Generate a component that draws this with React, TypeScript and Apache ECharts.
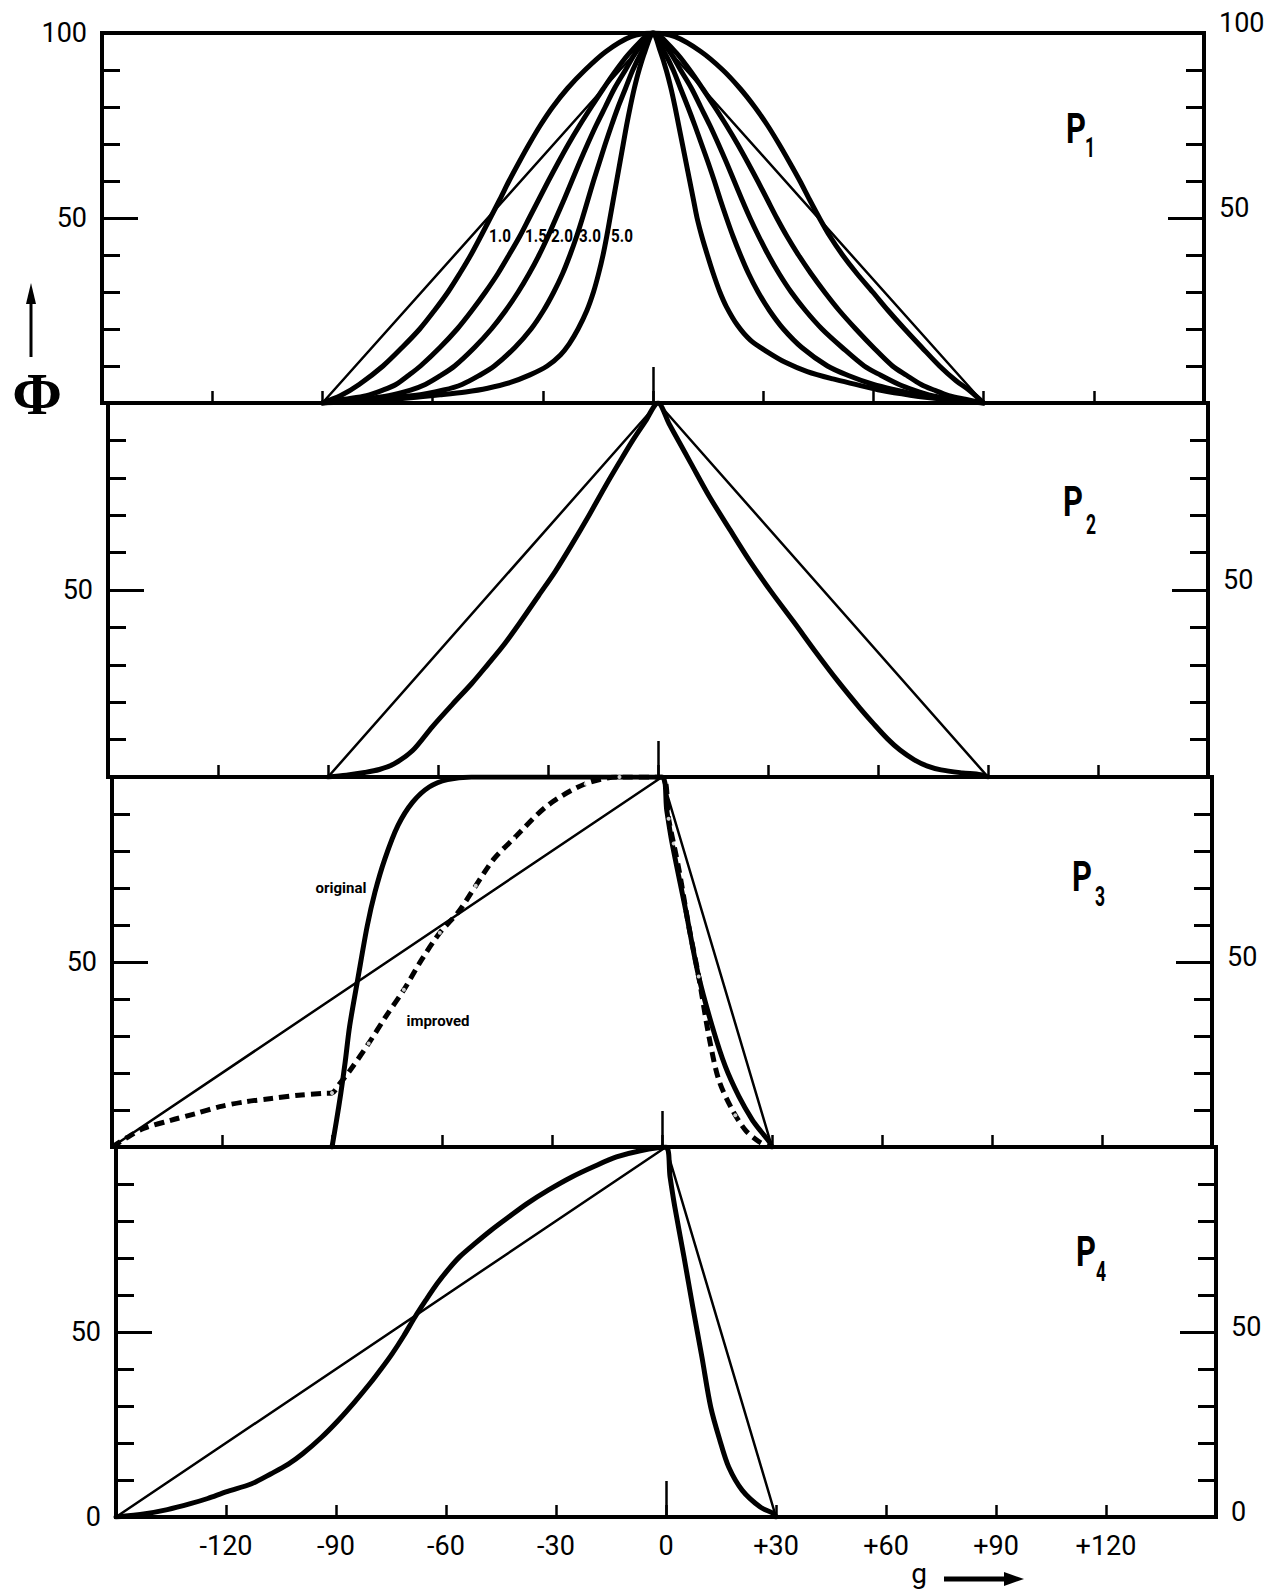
import React, { useEffect, useRef } from "react";
import * as echarts from "echarts";

// ---------- axis ranges / ticks ----------
const gMin = -150;
const gMax = 150;
const gStep = 30;
const phiMin = 0;
const phiMax = 100;
const phiStep = 50;
const phiMinorSplit = 5;

// ---------- panel P1 ----------
const p1Triangle = [[-90, 0], [0, 100], [90, 0]];
const p1Curve10 = [
  [-90, 0], [-85, 2], [-80, 5], [-73.5, 10], [-68.3, 15], [-63.5, 20], [-59.5, 25], [-55.8, 30], [-52.6, 35],
  [-49.6, 40], [-46.9, 45], [-44.3, 50], [-41.7, 55], [-39.2, 60], [-36.5, 65], [-33.7, 70], [-30.7, 75],
  [-27.3, 80], [-23.3, 85], [-18.5, 90], [-12.8, 95], [-6, 99], [0, 100],
  [6, 99], [13, 95], [19, 90], [23.7, 85], [27.7, 80], [31.2, 75], [34.3, 70], [37.2, 65], [40, 60], [42.6, 55],
  [45.3, 50], [48.2, 45], [51.6, 40], [55.5, 35], [59.8, 30], [64, 25], [68.5, 20], [73.2, 15], [78, 10],
  [82.5, 6], [86, 3.5], [90, 0],
];
const p1Curve15 = [
  [-90, 0], [-84, 1], [-78, 2], [-73.5, 3.5], [-70, 5], [-66.5, 7.5], [-63.3, 10], [-58, 15], [-53.3, 20],
  [-49.3, 25], [-45.6, 30], [-42.2, 35], [-39.2, 40], [-36.3, 45], [-33.7, 50], [-31.1, 55], [-28.5, 60],
  [-25.8, 65], [-23, 70], [-20, 75], [-16.8, 80], [-13.5, 85], [-10, 90], [-6, 95], [0, 100],
  [6, 95], [10, 90], [13.5, 85], [16.8, 80], [20, 75], [23, 70], [25.8, 65], [28.5, 60], [31.1, 55], [33.7, 50],
  [36.5, 45], [39.6, 40], [43, 35], [46.7, 30], [50.7, 25], [55.2, 20], [60, 15], [65.2, 10], [69, 7.5], [73, 5],
  [76.5, 3.5], [80.5, 2], [85, 1], [90, 0],
];
const p1Curve20 = [
  [-90, 0], [-80, 1], [-72, 2], [-66, 3.5], [-62, 5], [-57.7, 7.5], [-54, 10], [-48.6, 15], [-44, 20], [-40.1, 25],
  [-36.7, 30], [-33.7, 35], [-31, 40], [-28.6, 45], [-26.4, 50], [-24.2, 55], [-22.1, 60], [-20, 65], [-17.8, 70],
  [-15.5, 75], [-13, 80], [-10.5, 85], [-7.5, 90], [-4.5, 95], [0, 100],
  [4.5, 95], [7.5, 90], [10.5, 85], [13, 80], [15.5, 75], [17.8, 70], [20, 65], [22.1, 60], [24.2, 55], [26.4, 50],
  [28.8, 45], [31.4, 40], [34.3, 35], [37.6, 30], [41.5, 25], [46, 20], [51.5, 15], [57.5, 10], [62, 7.5], [67, 5],
  [71, 3.5], [76, 2], [82, 1], [90, 0],
];
const p1Curve30 = [
  [-90, 0], [-78, 1], [-65, 2], [-57, 3.5], [-52, 5], [-47.2, 7.5], [-43.2, 10], [-37.6, 15], [-33.2, 20],
  [-29.8, 25], [-27, 30], [-24.6, 35], [-22.6, 40], [-20.8, 45], [-19.2, 50], [-17.7, 55], [-16.2, 60],
  [-14.6, 65], [-13, 70], [-11.3, 75], [-9.5, 80], [-7.5, 85], [-5.5, 90], [-3, 95], [0, 100],
  [3, 95], [5.5, 90], [7.5, 85], [9.5, 80], [11.4, 75], [13.2, 70], [15, 65], [16.7, 60], [18.3, 55], [20, 50],
  [21.8, 45], [23.8, 40], [26, 35], [28.6, 30], [31.7, 25], [35.5, 20], [40.5, 15], [47.5, 10], [53, 7.5], [60, 5],
  [66, 3.5], [73, 2], [80, 1], [90, 0],
];
const p1Curve50 = [
  [-90, 0], [-74, 0.8], [-66, 1.4], [-58, 2.2], [-51, 3], [-45, 4], [-39, 5.5], [-33.5, 7.6], [-28.8, 10],
  [-25.2, 13], [-22.8, 16], [-20.4, 20], [-18, 25], [-16.2, 30], [-14.8, 35], [-13.6, 40], [-12.6, 45],
  [-11.7, 50], [-10.8, 55], [-9.9, 60], [-9, 65], [-8.1, 70], [-7.2, 75], [-6.2, 80], [-5.1, 85], [-3.8, 90],
  [-2.2, 95], [0, 100],
  [2, 95], [3.6, 90], [4.9, 85], [6, 80], [7, 75], [8, 70], [9, 65], [10, 60], [11, 55], [12, 50], [13.3, 45],
  [14.8, 40], [16.4, 35], [18.2, 30], [20, 26], [23, 21], [26.5, 17], [31, 13.9], [36, 11], [42, 8.5],
  [49, 6.5], [55.7, 4.9], [62, 3.4], [70, 2.1], [80, 0.9], [90, 0],
];
const p1CurveLabels = ["1.0", "1.5", "2.0", "3.0", "5.0"];

// ---------- panel P2 ----------
const p2Triangle = [[-90, 0], [0, 100], [90, 0]];
const p2Curve = [
  [-90, 0], [-85, 0.5], [-80, 1.2], [-76, 2], [-72, 3.5], [-67, 7], [-61.5, 13.5], [-56, 19.5], [-50.8, 25],
  [-46.5, 30], [-42.3, 35], [-37.5, 41.5], [-32.5, 48.6], [-28, 55], [-23.6, 62], [-18.8, 70], [-14.2, 78],
  [-10.6, 84], [-6.9, 90], [-3.5, 95], [0, 100],
  [3, 94.5], [5.8, 89.5], [8.9, 84], [14, 75], [19.7, 66], [25, 57.8], [30.9, 49.5], [37, 41.5], [43.1, 33.3],
  [49, 25.7], [55, 18.5], [59, 14], [62.6, 10.2], [66, 7.2], [69.9, 4.6], [73.5, 2.9], [77.2, 1.9], [83, 1.1],
  [88, 0.6], [90, 0],
];

// ---------- panel P3 ----------
const p3Line = [[-150, 0], [0, 100], [30, 0]];
const p3Original = [
  [-90, 0], [-88.8, 7], [-87.6, 14.5], [-86.4, 23], [-85.2, 32.6], [-83, 45.2], [-80.4, 59.7], [-78.3, 68.8],
  [-75.6, 77.8], [-72, 86.9], [-68, 93.2], [-63.5, 97.3], [-58.5, 99.3], [-52, 100], [0, 100],
  [1.3, 91], [2.7, 82.4], [6.4, 64.3], [10, 46.1], [13.7, 32.6], [17.3, 21.7], [21, 13.6], [24.7, 7.2],
  [27, 4.2], [29.2, 1.5], [30, 0],
];
const p3Improved = [
  [-150, 0], [-146, 2.5], [-141.4, 5], [-134, 7.2], [-127.3, 9], [-120.6, 10.9], [-113.8, 12.2], [-106.5, 13.1],
  [-99.1, 14], [-92.4, 14.5], [-90, 14.6], [-88, 17], [-85, 20.8], [-80, 28], [-75.3, 35.3], [-70.4, 42.5],
  [-65.5, 50.7], [-60.6, 57.9], [-55.7, 63.3], [-50.8, 70.6], [-45.9, 77.8], [-40.4, 83.4], [-31.2, 92.3],
  [-20.8, 98.2], [-11.6, 100], [0, 100],
  [1.8, 88.7], [4.6, 75.1], [7.3, 59.7], [10, 46.1], [12.8, 29.9], [15.5, 18.1], [19.2, 10], [22.8, 4.5],
  [26.5, 1.4], [29, 0],
];
const p3ImprovedMarks = [
  [-90, 14.6], [-80, 28], [-70.4, 42.5], [-60.6, 57.9], [-50.8, 70.6], [-40.4, 83.4], [-31.2, 92.3],
  [-20.8, 98.2], [-11.6, 100], [1.8, 88.7], [3.2, 82], [10, 46.1], [20, 8.6],
];

// ---------- panel P4 ----------
const p4Line = [[-150, 0], [0, 100], [30, 0]];
const p4Curve = [
  [-150, 0], [-142, 0.9], [-136, 2], [-129.7, 3.6], [-125, 5], [-120, 6.8], [-113, 9], [-107.7, 11.7],
  [-103, 14.3], [-99.1, 17.1], [-94, 21.5], [-89.4, 26.1], [-85, 31], [-80.8, 36], [-77.7, 40], [-74.7, 44.1],
  [-71.5, 49], [-68.5, 54], [-65.5, 58.6], [-62.4, 63.1], [-59.3, 67], [-56.3, 70.3], [-52, 74], [-47.7, 77.5],
  [-43, 81], [-37.9, 84.7], [-32, 88.4], [-25.7, 91.9], [-19.5, 94.8], [-13.5, 97.3], [-7, 99], [0, 100],
  [1.1, 92], [2.4, 83.8], [4.9, 70.3], [7.3, 56.8], [9.8, 43.2], [12.2, 29.7], [14.7, 20.7], [17.1, 13.5],
  [20.8, 7.2], [25.7, 2.7], [29.4, 0.9], [30, 0],
];

const panelSubscripts = ["1", "2", "3", "4"];

// ---------- layout ----------
const PANELS = [
  { left: 102, top: 33, width: 1102, height: 370 },
  { left: 108, top: 403, width: 1100, height: 374 },
  { left: 112, top: 777, width: 1100, height: 370 },
  { left: 116, top: 1147, width: 1100, height: 370 },
];
const FONT = "Roboto, 'DejaVu Sans', sans-serif";
const BLACK = "#000";

function fmtX(v: number) {
  if (v === gMin || v === gMax) return "";
  return v > 0 ? "+" + v : String(v);
}
function fmtY(i: number) {
  return (v: number) =>
    v === 50 || (i === 0 && v === 100) || (i === 3 && v === 0) ? String(v) : "";
}

function buildOption() {
  const grid = PANELS.map((p) => ({
    left: p.left,
    top: p.top,
    width: p.width,
    height: p.height,
    show: true,
    borderColor: BLACK,
    borderWidth: 4,
    backgroundColor: "transparent",
    containLabel: false,
    outerBoundsMode: "none",
  }));

  const xAxis: any[] = [];
  const yAxis: any[] = [];
  PANELS.forEach((_p, i) => {
    xAxis.push({
      gridIndex: i,
      type: "value",
      position: "bottom",
      min: gMin,
      max: gMax,
      interval: gStep,
      axisLine: { show: true, onZero: false, lineStyle: { color: BLACK, width: 4 } },
      axisTick: { show: true, inside: true, length: 12, lineStyle: { color: BLACK, width: 2.5 } },
      axisLabel:
        i === 3
          ? { show: true, margin: 15, color: BLACK, fontSize: 27, fontFamily: FONT, formatter: fmtX }
          : { show: false },
      splitLine: { show: false },
    });
    xAxis.push({
      gridIndex: i,
      type: "value",
      position: "bottom",
      min: gMin,
      max: gMax,
      interval: 150,
      axisLine: { show: false, onZero: false },
      axisTick: { show: true, inside: true, length: 36, lineStyle: { color: BLACK, width: 2.5 } },
      axisLabel: { show: false },
      splitLine: { show: false },
    });
    (["left", "right"] as const).forEach((side) => {
      const label: any = {
        show: true,
        margin: 15,
        color: BLACK,
        fontSize: 27,
        fontFamily: FONT,
        formatter: fmtY(i),
      };
      if (side === "right") {
        label.verticalAlign = "bottom";
        label.lineHeight = i < 2 ? 20 : 11;
      }
      yAxis.push({
        gridIndex: i,
        type: "value",
        position: side,
        min: phiMin,
        max: phiMax,
        interval: phiStep,
        axisLine: { show: true, onZero: false, lineStyle: { color: BLACK, width: 4 } },
        axisTick: { show: true, inside: true, length: 36, lineStyle: { color: BLACK, width: 3 } },
        minorTick: { show: true, splitNumber: phiMinorSplit, length: 18, lineStyle: { color: BLACK, width: 3 } },
        minorSplitLine: { show: false },
        splitLine: { show: false },
        axisLabel: label,
      });
    });
  });

  const thin = (data: number[][], i: number) => ({
    type: "line",
    xAxisIndex: 2 * i,
    yAxisIndex: 2 * i,
    data,
    symbol: "none",
    silent: true,
    lineStyle: { color: BLACK, width: 2.5 },
    z: 3,
  });
  const thick = (data: number[][], i: number, extra: any = {}) => ({
    type: "line",
    xAxisIndex: 2 * i,
    yAxisIndex: 2 * i,
    data,
    symbol: "none",
    silent: true,
    smooth: 0.3,
    lineStyle: { color: BLACK, width: 5, cap: "round", join: "round", ...(extra.lineStyle || {}) },
    z: 4,
  });

  const series: any[] = [
    thin(p1Triangle, 0),
    thick(p1Curve10, 0),
    thick(p1Curve15, 0),
    thick(p1Curve20, 0),
    thick(p1Curve30, 0),
    thick(p1Curve50, 0),
    thin(p2Triangle, 1),
    thick(p2Curve, 1),
    thin(p3Line, 2),
    thick(p3Original, 2),
    thick(p3Improved, 2, { lineStyle: { type: [10, 6], cap: "butt" } }),
    {
      type: "scatter",
      xAxisIndex: 4,
      yAxisIndex: 4,
      data: p3ImprovedMarks,
      symbol: "circle",
      symbolSize: 4,
      silent: true,
      itemStyle: { color: "#fff", borderWidth: 0 },
      z: 6,
    },
    thin(p4Line, 3),
    thick(p4Curve, 3),
  ];

  // ---------- annotations ----------
  const pLabelPos = [
    { px: 1076, py: 128, sx: 1090, sy: 148 },
    { px: 1073, py: 501, sx: 1091, sy: 525 },
    { px: 1082, py: 876, sx: 1100, sy: 897 },
    { px: 1086, py: 1251, sx: 1101, sy: 1272 },
  ];
  const graphic: any[] = [];
  pLabelPos.forEach((p, i) => {
    graphic.push({
      type: "text",
      x: p.px,
      y: p.py,
      scaleX: 0.72,
      silent: true,
      style: { text: "P", fill: BLACK, font: `bold 43px ${FONT}`, textAlign: "center", textVerticalAlign: "middle" },
    });
    graphic.push({
      type: "text",
      x: p.sx,
      y: p.sy,
      scaleX: 0.65,
      silent: true,
      style: {
        text: panelSubscripts[i],
        fill: BLACK,
        font: `bold 27px ${FONT}`,
        textAlign: "center",
        textVerticalAlign: "middle",
      },
    });
  });
  const curveLabelX = [500, 536, 562, 590, 622];
  p1CurveLabels.forEach((t, k) => {
    graphic.push({
      type: "text",
      x: curveLabelX[k],
      y: 235,
      scaleX: 0.8,
      silent: true,
      style: { text: t, fill: BLACK, font: `bold 19px ${FONT}`, textAlign: "center", textVerticalAlign: "middle" },
    });
  });
  graphic.push({
    type: "text",
    x: 341,
    y: 888,
    silent: true,
    style: { text: "original", fill: BLACK, font: `bold 15px ${FONT}`, textAlign: "center", textVerticalAlign: "middle" },
  });
  graphic.push({
    type: "text",
    x: 438,
    y: 1021,
    silent: true,
    style: { text: "improved", fill: BLACK, font: `bold 15px ${FONT}`, textAlign: "center", textVerticalAlign: "middle" },
  });
  // Phi axis title with arrow
  graphic.push({
    type: "text",
    x: 37,
    y: 394,
    silent: true,
    style: {
      text: "Φ",
      fill: BLACK,
      font: "bold 60px 'Liberation Serif', 'DejaVu Serif', serif",
      textAlign: "center",
      textVerticalAlign: "middle",
    },
  });
  graphic.push({
    type: "line",
    silent: true,
    shape: { x1: 31, y1: 357, x2: 31, y2: 298 },
    style: { stroke: BLACK, lineWidth: 3 },
  });
  graphic.push({
    type: "polygon",
    silent: true,
    shape: { points: [[26, 304], [31, 283], [36, 304]] },
    style: { fill: BLACK },
  });
  // g axis title with arrow
  graphic.push({
    type: "text",
    x: 919,
    y: 1573,
    silent: true,
    style: { text: "g", fill: BLACK, font: `28px ${FONT}`, textAlign: "center", textVerticalAlign: "middle" },
  });
  graphic.push({
    type: "line",
    silent: true,
    shape: { x1: 944, y1: 1579, x2: 1008, y2: 1579 },
    style: { stroke: BLACK, lineWidth: 5 },
  });
  graphic.push({
    type: "polygon",
    silent: true,
    shape: { points: [[1004, 1572], [1024, 1579], [1004, 1586]] },
    style: { fill: BLACK },
  });

  return {
    animation: false,
    backgroundColor: "#fff",
    grid,
    xAxis,
    yAxis,
    series,
    graphic,
  };
}

export default function App() {
  const ref = useRef<HTMLDivElement>(null);
  useEffect(() => {
    document.body.style.margin = "0";
    const chart = echarts.init(ref.current as HTMLDivElement, null, { renderer: "svg" });
    chart.setOption(buildOption() as any);
    return () => {
      chart.dispose();
    };
  }, []);
  return (
    <div
      ref={ref}
      style={{ position: "absolute", left: 0, top: 0, width: 1266, height: 1589, background: "#fff" }}
    />
  );
}
